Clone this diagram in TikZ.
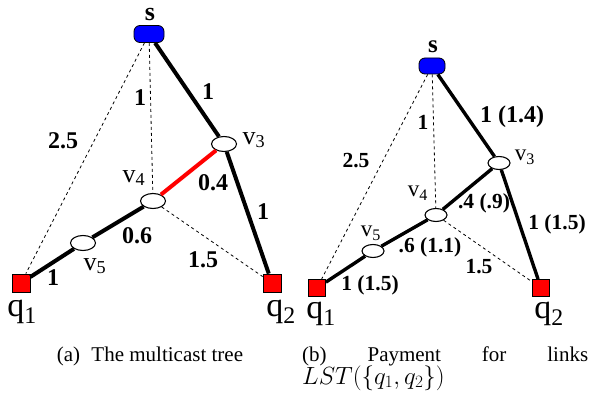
\documentclass[tikz,border=0pt]{standalone}
\usepackage{fontspec}
\setmainfont{Liberation Serif}
\usetikzlibrary{shapes.geometric}

\begin{document}
\begin{tikzpicture}[
  x=1pt, y=-1pt,
  src/.style={draw, fill=blue, line width=0.8pt, rounded corners=6pt, inner sep=0pt},
  relay/.style={ellipse, draw, fill=white, line width=1.1pt, inner sep=0pt},
  recv/.style={draw, fill=red, line width=0.8pt, inner sep=0pt},
  tree/.style={line width=4pt},
  alt/.style={dash pattern=on 3pt off 3pt, line width=0.8pt},
  cost/.style={font=\fontsize{24}{24}\selectfont\bfseries, inner sep=0pt},
  costb/.style={font=\fontsize{21.5}{22}\selectfont\bfseries, inner sep=0pt},
  vname/.style={font=\fontsize{26}{26}\selectfont, inner sep=0pt},
  vnameb/.style={font=\fontsize{23}{23}\selectfont, inner sep=0pt},
  qname/.style={font=\fontsize{34}{34}\selectfont, inner sep=0pt},
  caption/.style={font=\fontsize{21}{22}\selectfont, inner sep=0pt}
]
  \useasboundingbox (0,0) rectangle (591,395);

  % (a) the multicast tree
  \node[src, minimum width=30pt, minimum height=17pt] (sa) at (149,34) {};
  \node[relay, minimum width=25pt, minimum height=15pt] (v3a) at (224,144) {};
  \node[relay, minimum width=25pt, minimum height=15pt] (v4a) at (153,201) {};
  \node[relay, minimum width=25pt, minimum height=15pt] (v5a) at (83,243) {};
  \node[recv, minimum size=18pt] (q1a) at (21,283) {};
  \node[recv, minimum size=18pt] (q2a) at (272,283) {};

  \draw[alt] (sa) -- (q1a);
  \draw[alt] (sa) -- (v4a);
  \draw[alt] (v4a) -- (q2a);
  \draw[tree] (sa) -- (v3a);
  \draw[tree, red] (v3a) -- (v4a);
  \draw[tree] (v3a) -- (q2a);
  \draw[tree] (v4a) -- (v5a);
  \draw[tree] (v5a) -- (q1a);

  \node[font=\fontsize{26}{26}\selectfont\bfseries, inner sep=0pt] (sa-name) at (150,15) {s};
  \node[vname] (v3a-name) at (254,140) {v\textsubscript{3}};
  \node[vname] (v4a-name) at (134,178) {v\textsubscript{4}};
  \node[vname] (v5a-name) at (95,266) {v\textsubscript{5}};
  \node[qname] (q1a-name) at (22,312) {q\textsubscript{1}};
  \node[qname] (q2a-name) at (281,312) {q\textsubscript{2}};

  \node[cost] (c-sv3a) at (208,92) {1};
  \node[cost] (c-v3v4a) at (213,183) {0.4};
  \node[cost] (c-v3q2a) at (263,212) {1};
  \node[cost] (c-v4v5a) at (137,236) {0.6};
  \node[cost] (c-v5q1a) at (53,278) {1};
  \node[cost] (c-sq1a) at (63,141) {2.5};
  \node[cost] (c-sv4a) at (140,98) {1};
  \node[cost] (c-v4q2a) at (203,260) {1.5};

  % (b) payments
  \node[src, minimum width=26pt, minimum height=16pt] (sb) at (432,66) {};
  \node[relay, minimum width=22pt, minimum height=13pt] (v3b) at (499,163) {};
  \node[relay, minimum width=22pt, minimum height=13pt] (v4b) at (436,215) {};
  \node[relay, minimum width=22pt, minimum height=13pt] (v5b) at (373,251) {};
  \node[recv, minimum size=17pt] (q1b) at (317,288) {};
  \node[recv, minimum size=17pt] (q2b) at (541,288) {};

  \draw[alt] (sb) -- (q1b);
  \draw[alt] (sb) -- (v4b);
  \draw[alt] (v4b) -- (q2b);
  \draw[tree, line width=3.4pt] (sb) -- (v3b);
  \draw[tree, line width=3.4pt] (v3b) -- (v4b);
  \draw[tree, line width=3.4pt] (v3b) -- (q2b);
  \draw[tree, line width=3.4pt] (v4b) -- (v5b);
  \draw[tree, line width=3.4pt] (v5b) -- (q1b);

  \node[font=\fontsize{25}{25}\selectfont\bfseries, inner sep=0pt] (sb-name) at (433,47) {s};
  \node[vnameb] (v3b-name) at (525,157) {v\textsubscript{3}};
  \node[vnameb] (v4b-name) at (418,193) {v\textsubscript{4}};
  \node[vnameb] (v5b-name) at (371,233) {v\textsubscript{5}};
  \node[qname] (q1b-name) at (321,314) {q\textsubscript{1}};
  \node[qname] (q2b-name) at (549,314) {q\textsubscript{2}};

  \node[cost] (c-sv3b) at (512,117) {1 (1.4)};
  \node[costb] (c-v3v4b) at (484,203) {.4 (.9)};
  \node[costb] (c-v3q2b) at (557,224) {1 (1.5)};
  \node[costb] (c-v4v5b) at (430,247) {.6 (1.1)};
  \node[costb] (c-v5q1b) at (370,285) {1 (1.5)};
  \node[costb] (c-sq1b) at (356,161) {2.5};
  \node[costb] (c-sv4b) at (423,122) {1};
  \node[costb] (c-v4q2b) at (479,267) {1.5};

  % captions
  \node[caption] (cap-a) at (150,356) {(a)\hspace{6pt} The multicast tree};
  \node[caption, anchor=north west, text width=286pt, align=left] (cap-b) at (302,347)
        {\hbox to 286pt{(b)\hfill Payment\hfill for\hfill links}\\[-2pt]
         {\fontsize{23}{24}\selectfont$LST(\{q_1,q_2\})$}};
\end{tikzpicture}
\end{document}
